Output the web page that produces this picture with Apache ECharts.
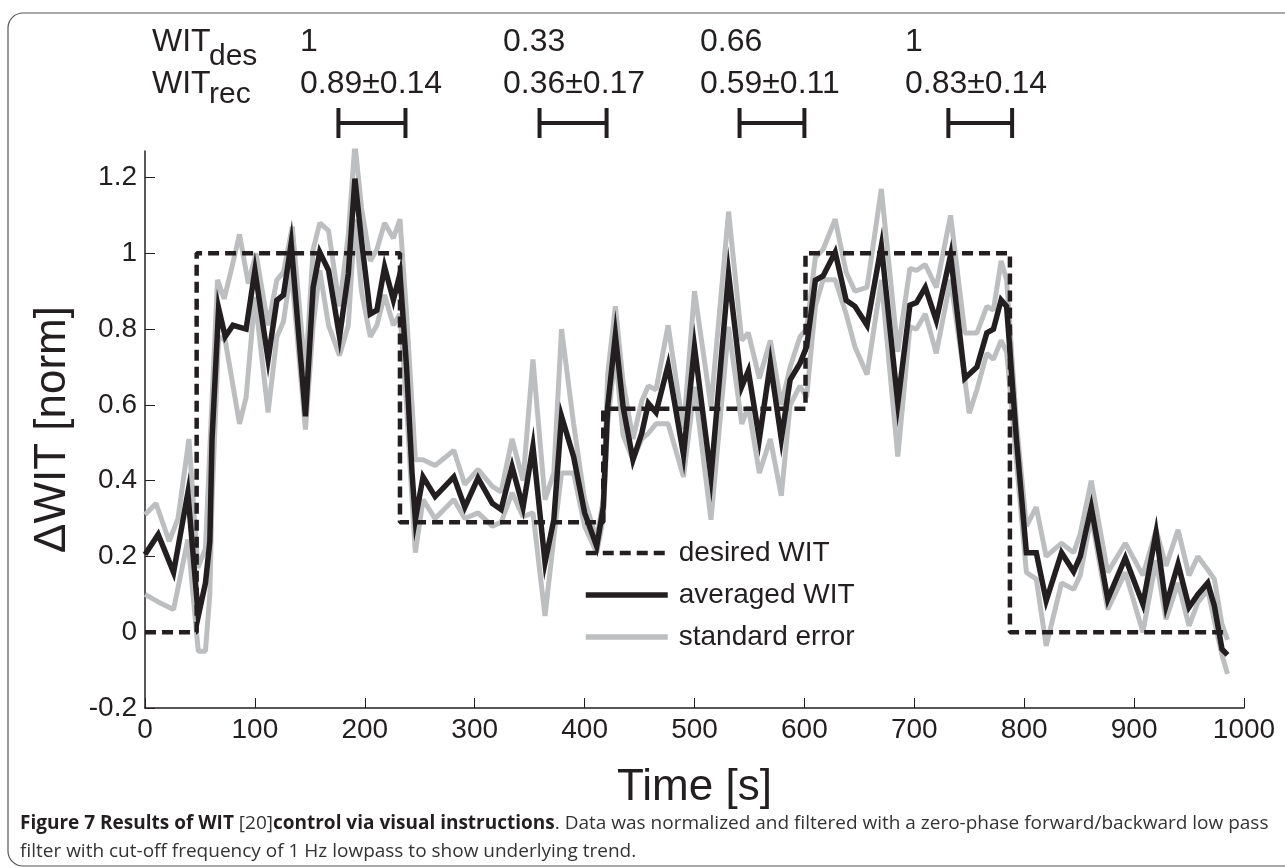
<!DOCTYPE html>
<html><head><meta charset="utf-8">
<script src="https://cdn.jsdelivr.net/npm/echarts@6/dist/echarts.min.js"></script>
<style>html,body{margin:0;padding:0;background:#fff}#c{width:1285px;height:868px}</style>
</head><body><div id="c"></div><script>
// ---- data ----
const avgTime  = [0,12,26,39,48.5,55,59,61,67,73,80,92,100,112,120,126,133,146,153,159,167,177,185,191,197,205,211,218,226,232,238,243,246,253,264,281,291,303,316,324,334,344,353,364,372,379,390,400,411,417,421,428,435,444,452,458,465,476,490,500,515,531,543,549,559,569,579,587,596,602,610,617,628,638,646,657,670,685,696,702,710,720,733,746,757,766,772,779,784,793,802,811,820,834,845,851,861,876,892,908,920,929,940,950,958,967,973,980,985];
const avgValue = [0.205,0.258,0.158,0.368,0.043,0.13,0.24,0.51,0.855,0.78,0.81,0.80,0.955,0.72,0.876,0.89,1.026,0.57,0.91,1.003,0.955,0.78,0.946,1.197,1.034,0.84,0.85,0.964,0.877,0.946,0.70,0.42,0.297,0.41,0.358,0.41,0.33,0.407,0.34,0.324,0.437,0.33,0.49,0.184,0.297,0.57,0.463,0.315,0.227,0.33,0.595,0.784,0.595,0.455,0.525,0.604,0.58,0.705,0.468,0.753,0.41,0.947,0.648,0.69,0.51,0.71,0.51,0.666,0.71,0.753,0.929,0.94,1.003,0.876,0.86,0.81,1.02,0.604,0.863,0.87,0.91,0.823,0.995,0.67,0.70,0.79,0.80,0.877,0.86,0.507,0.21,0.21,0.083,0.21,0.16,0.2,0.33,0.087,0.196,0.074,0.263,0.07,0.18,0.066,0.10,0.13,0.07,-0.045,-0.06];

const upperTime  = [0,10,22,30,40,48,55,60,66,72,78,86,94,101,112,120,126,134,146,153,159,167,177,185,191,197,205,211,218,226,232,238,243,246,253,264,281,291,303,316,324,334,344,353,364,372,379,390,400,411,417,421,428,435,444,452,458,465,476,490,500,515,531,543,549,559,569,579,587,596,602,610,617,628,638,646,657,670,685,696,702,710,720,733,746,757,766,772,779,784,793,802,811,820,834,845,851,861,876,892,908,920,929,940,950,958,967,973,980,985];
const upperValue = [0.31,0.34,0.24,0.30,0.51,0.17,0.22,0.55,0.93,0.88,0.95,1.05,0.92,1.0,0.81,0.93,0.95,1.07,0.68,1.01,1.08,1.06,0.86,1.05,1.29,1.12,0.98,1.01,1.08,1.04,1.09,0.84,0.6,0.455,0.455,0.44,0.48,0.39,0.43,0.385,0.37,0.51,0.40,0.72,0.35,0.42,0.80,0.55,0.35,0.245,0.35,0.68,0.86,0.66,0.51,0.61,0.65,0.64,0.81,0.535,0.90,0.595,1.11,0.77,0.79,0.67,0.77,0.60,0.70,0.78,0.80,0.99,1.01,1.09,0.95,0.90,0.91,1.17,0.74,0.96,0.955,0.97,0.91,1.10,0.79,0.79,0.86,0.85,0.98,0.93,0.55,0.28,0.33,0.20,0.235,0.21,0.26,0.40,0.158,0.235,0.15,0.27,0.175,0.27,0.15,0.20,0.165,0.14,0.02,-0.02];

const lowerTime  = [0,12,26,39,48.5,55,59,61,67,73,86,92,100,112,120,126,133,146,153,159,167,177,185,191,197,205,211,218,226,232,238,243,246,253,264,281,291,303,316,324,334,344,353,364,372,379,390,400,411,417,421,428,435,444,452,458,465,476,490,500,515,531,543,549,559,569,579,587,596,602,610,617,628,638,646,657,670,685,696,702,710,720,733,746,750,757,766,772,779,784,793,802,811,820,834,845,851,861,876,892,908,920,929,940,950,958,967,973,980,985];
const lowerValue = [0.10,0.08,0.06,0.245,-0.05,-0.05,0.1,0.35,0.78,0.77,0.55,0.62,0.885,0.58,0.78,0.82,0.96,0.535,0.81,0.955,0.81,0.73,0.81,1.09,0.90,0.78,0.81,0.89,0.81,0.84,0.60,0.35,0.21,0.35,0.30,0.35,0.30,0.315,0.28,0.29,0.368,0.305,0.315,0.043,0.25,0.42,0.42,0.28,0.21,0.30,0.55,0.736,0.52,0.455,0.51,0.525,0.55,0.55,0.41,0.648,0.297,0.806,0.55,0.595,0.42,0.51,0.36,0.6,0.65,0.62,0.86,0.93,0.93,0.84,0.753,0.68,0.93,0.464,0.806,0.80,0.84,0.736,0.93,0.666,0.578,0.64,0.736,0.72,0.77,0.74,0.45,0.158,0.14,-0.036,0.13,0.113,0.15,0.306,0.06,0.158,0.0,0.19,0.034,0.13,0.017,0.078,0.113,0.03,-0.06,-0.11];

const desiredTime  = [0,47,47,232,232,417,417,601,601,787,787,985];
const desiredValue = [0,0,1,1,0.29,0.29,0.59,0.59,1,1,0,0];

const windowStart = [176,359,541,731];
const windowEnd   = [237,420,600,789];
const desLabels = ['1','0.33','0.66','1'];
const recLabels = ['0.89\u00b10.14','0.36\u00b10.17','0.59\u00b10.11','0.83\u00b10.14'];

const xTicks = [0,100,200,300,400,500,600,700,800,900,1000];
const yTicks = [-0.2,0,0.2,0.4,0.6,0.8,1,1.2];
const seriesNames = ['desired WIT','averaged WIT','standard error'];

// ---- styling ----
const INK = '#231f20', GRAY = '#bcbec0';
const FONT = '"Liberation Sans", Arial, Helvetica, sans-serif';
const pairs = (t, v) => t.map((x, i) => [x, v[i]]);

const chart = echarts.init(document.getElementById('c'));
const labelX = [300, 503, 700, 905];
const graphics = [
  {type:'rect', shape:{x:8, y:13, width:1300, height:853, r:15}, style:{fill:'none', stroke:'#555', lineWidth:1.2}, silent:true},
  {type:'text', x:152, y:26, style:{text:'WIT', font:'32px '+FONT, fill:INK}},
  {type:'text', x:209, y:42, style:{text:'des', font:'30px '+FONT, fill:INK}},
  {type:'text', x:152, y:68, style:{text:'WIT', font:'32px '+FONT, fill:INK}},
  {type:'text', x:209, y:80, style:{text:'rec', font:'30px '+FONT, fill:INK}},
  {type:'text', x:20, y:810, style:{
    text:'{b|Figure 7 Results of WIT }{n|[20]}{b|control via visual instructions}{n|. Data was normalized and filtered with a zero-phase forward/backward low pass}\n{n|filter with cut-off frequency of 1 Hz lowpass to show underlying trend.}',
    lineHeight:28,
    rich:{
      b:{fontFamily:'"Open Sans", sans-serif', fontWeight:'bold', fontSize:19, fill:'#231f20', lineHeight:28},
      n:{fontFamily:'"Open Sans", sans-serif', fontSize:19, fill:'#333', lineHeight:28}
    }}}
];
desLabels.forEach((s, i) => graphics.push({type:'text', x:labelX[i], y:26, style:{text:s, font:'32px '+FONT, fill:INK}}));
recLabels.forEach((s, i) => graphics.push({type:'text', x:labelX[i], y:68, style:{text:s, font:'32px '+FONT, fill:INK}}));

const noMark = {opacity:0};
chart.setOption({
  animation:false,
  backgroundColor:'#fff',
  grid:{left:145, right:41, top:151, bottom:160},
  legend:{
    orient:'vertical', left:578, top:534, itemWidth:82, itemHeight:20, itemGap:14,
    textStyle:{fontSize:28, fontFamily:FONT, color:INK, padding:[0,0,0,6]},
    data:[
      {name:seriesNames[0], itemStyle:noMark, lineStyle:{width:4.5, type:[11,6], color:INK}},
      {name:seriesNames[1], itemStyle:noMark, lineStyle:{width:5.5, color:INK}},
      {name:seriesNames[2], itemStyle:noMark, lineStyle:{width:5.5, color:GRAY}}
    ]
  },
  xAxis:{
    type:'value', min:0, max:1000, interval:100,
    axisLine:{show:true, onZero:false, lineStyle:{color:INK, width:1.5}},
    axisTick:{show:true, inside:true, length:10, customValues:xTicks, lineStyle:{color:INK, width:1}},
    axisLabel:{fontSize:28, fontFamily:FONT, color:INK, margin:8, customValues:xTicks, formatter:v => String(v)},
    splitLine:{show:false},
    name:'Time [s]', nameLocation:'middle', nameGap:58,
    nameTextStyle:{fontSize:44, fontFamily:FONT, color:INK}
  },
  yAxis:{
    type:'value', min:-0.2, max:1.27, interval:0.2,
    axisLine:{show:true, onZero:false, lineStyle:{color:INK, width:1.5}},
    axisTick:{show:true, inside:true, length:10, customValues:yTicks, lineStyle:{color:INK, width:1}},
    axisLabel:{fontSize:28, fontFamily:FONT, color:INK, margin:8, customValues:yTicks, formatter:v => String(v)},
    splitLine:{show:false},
    name:'\u0394WIT [norm]', nameLocation:'middle', nameGap:70, nameRotate:90,
    nameTextStyle:{fontSize:44, fontFamily:FONT, color:INK}
  },
  series:[
    {name:seriesNames[2], type:'line', data:pairs(upperTime, upperValue), symbol:'none', z:1,
     lineStyle:{color:GRAY, width:5}, itemStyle:{color:GRAY}},
    {name:seriesNames[2], type:'line', data:pairs(lowerTime, lowerValue), symbol:'none', z:1,
     lineStyle:{color:GRAY, width:5}, itemStyle:{color:GRAY}},
    {name:seriesNames[0], type:'line', data:pairs(desiredTime, desiredValue), symbol:'none', z:2,
     lineStyle:{color:INK, width:4.5, type:[11,6]}, itemStyle:{color:INK}},
    {name:seriesNames[1], type:'line', data:pairs(avgTime, avgValue), symbol:'none', z:3,
     lineStyle:{color:INK, width:5.5, join:'miter'}, itemStyle:{color:INK}},
    {type:'custom', clip:false, silent:true, z:4, encode:{x:[0,1]},
     data:pairs(windowStart, windowEnd),
     renderItem:(params, api) => {
       const s = api.coord([api.value(0), 0])[0];
       const e = api.coord([api.value(1), 0])[0];
       const y = params.coordSys.y - 28;
       const st = {stroke:INK, lineWidth:4};
       return {type:'group', children:[
         {type:'line', shape:{x1:s, y1:y, x2:e, y2:y}, style:st},
         {type:'line', shape:{x1:s, y1:y-15, x2:s, y2:y+15}, style:st},
         {type:'line', shape:{x1:e, y1:y-15, x2:e, y2:y+15}, style:st}
       ]};
     }}
  ],
  graphic:graphics
});
</script></body></html>
